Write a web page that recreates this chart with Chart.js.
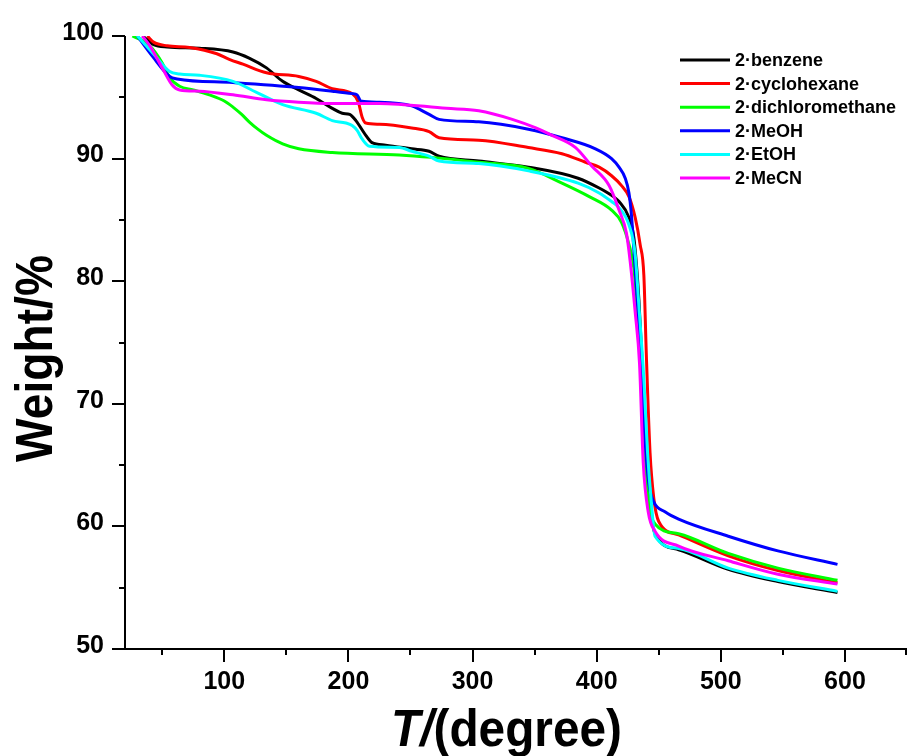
<!DOCTYPE html>
<html>
<head>
<meta charset="utf-8">
<script src="https://cdn.jsdelivr.net/npm/chart.js@4"></script>
<style>
  html, body { margin: 0; padding: 0; background: #fff; }
  #c { display: block; }
</style>
</head>
<body>
<canvas id="c" width="908" height="756"></canvas>
<script>
// ---- data (temperature in degree, weight in %) ----
const seriesLabels = ['2\u00b7benzene', '2\u00b7cyclohexane', '2\u00b7dichloromethane', '2\u00b7MeOH', '2\u00b7EtOH', '2\u00b7MeCN'];
const seriesColors = ['#000000', '#ff0000', '#00ff00', '#0000ff', '#00ffff', '#ff00ff'];

const benzeneT = [34, 38, 43, 54, 80, 107, 120, 134, 147, 160, 174, 187, 195, 201, 206, 214, 219, 230, 251, 265, 273, 305, 345, 385, 402, 412, 418, 426, 430, 434, 437, 440, 443, 447, 466, 506, 546, 594];
const benzeneW = [100, 99.7, 99.3, 99.1, 99.0, 98.7, 98.2, 97.4, 96.3, 95.6, 94.9, 94.1, 93.7, 93.6, 93.1, 91.9, 91.3, 91.1, 90.8, 90.6, 90.2, 89.8, 89.3, 88.4, 87.6, 87.0, 86.5, 85.2, 83.5, 78.5, 72.5, 66, 62, 59.4, 58.1, 56.5, 55.5, 54.6];

const cyclohexaneT = [38, 43, 54, 72, 94, 104, 115, 134, 160, 174, 187, 203, 208, 211, 214, 225, 251, 265, 273, 305, 345, 372, 391, 402, 412, 420, 426, 431, 435, 438, 440, 443, 446, 450, 466, 506, 546, 594];
const cyclohexaneW = [100, 99.5, 99.2, 99.06, 98.55, 98.1, 97.7, 97.0, 96.7, 96.3, 95.7, 95.3, 94.6, 93.4, 92.9, 92.8, 92.5, 92.2, 91.7, 91.5, 90.9, 90.4, 89.7, 89.3, 88.6, 87.8, 86.9, 85.2, 83.0, 80.5, 74, 66, 62.3, 60.4, 59.3, 57.6, 56.4, 55.4];

const dichloromethaneT = [26, 40, 50, 56, 64, 75, 88, 100, 107, 114, 120, 127, 134, 147, 160, 187, 241, 267, 305, 345, 372, 394, 412, 420, 426, 430, 433, 436, 439, 442, 447, 466, 506, 546, 594];
const dichloromethaneW = [100, 99.2, 97.8, 96.6, 95.9, 95.6, 95.2, 94.7, 94.2, 93.6, 93.0, 92.4, 91.9, 91.2, 90.8, 90.5, 90.3, 90.1, 89.7, 89.2, 88.0, 86.9, 85.8, 84.8, 83.0, 81.0, 77, 72, 66, 62, 60.2, 59.4, 57.8, 56.6, 55.6];

const meohT = [30, 42.5, 56, 62, 107, 160, 187, 203, 207, 210, 225, 251, 265, 273, 305, 345, 372, 399, 412, 418, 423, 426, 428, 430, 433, 436, 439, 442, 446, 455, 466, 506, 546, 594];
const meohW = [100, 98.3, 96.7, 96.5, 96.2, 95.8, 95.5, 95.3, 95.2, 94.7, 94.6, 94.3, 93.6, 93.2, 93.0, 92.4, 91.7, 90.8, 90.0, 89.3, 88.4, 87.2, 85.4, 82.5, 78, 73, 67, 63.5, 62.0, 61.2, 60.6, 59.2, 58.0, 56.9];

const etohT = [30, 42.5, 56, 64, 80, 107, 128, 147, 174, 187, 198, 203, 207, 211, 217, 241, 251, 265, 273, 305, 345, 385, 402, 412, 418, 426, 431, 434, 438, 441, 444, 447, 466, 506, 546, 594];
const etohW = [100, 98.6, 97.1, 96.9, 96.8, 96.3, 95.3, 94.4, 93.7, 93.1, 92.9, 92.7, 92.3, 91.6, 91.0, 90.9, 90.6, 90.2, 89.8, 89.6, 89.0, 88.0, 87.2, 86.5, 86.0, 84.6, 82.2, 78, 72, 66, 62, 59.2, 58.2, 56.6, 55.6, 54.7];

const mecnT = [34, 40, 50.5, 58, 64, 80, 107, 134, 160, 187, 225, 279, 305, 332, 351, 364, 383, 396, 410, 418, 424, 427, 431, 434.5, 437.5, 441.5, 447, 466, 506, 546, 594];
const mecnW = [100, 99.2, 97.3, 96.0, 95.6, 95.5, 95.2, 94.8, 94.6, 94.5, 94.5, 94.1, 93.9, 93.2, 92.5, 91.9, 90.9, 89.4, 87.8, 85.8, 83.9, 81.6, 77.5, 73.3, 65.2, 61.2, 59.6, 58.4, 57.2, 56.1, 55.3];

const xLabelTicks = [100, 200, 300, 400, 500, 600];
const xMinorTicks = [50, 150, 250, 350, 450, 550, 650];
const yLabelTicks = [50, 60, 70, 80, 90, 100];
const yMinorTicks = [55, 65, 75, 85, 95];
const xTitleMain = 'T/';
const xTitleRest = '(degree)';
const yTitle = 'Weight/%';

// ---- build ----
const seriesT = [benzeneT, cyclohexaneT, dichloromethaneT, meohT, etohT, mecnT];
const seriesW = [benzeneW, cyclohexaneW, dichloromethaneW, meohW, etohW, mecnW];

const datasets = seriesLabels.map((label, i) => ({
  label,
  data: seriesT[i].map((t, j) => ({ x: t, y: seriesW[i][j] })),
  borderColor: seriesColors[i],
  backgroundColor: seriesColors[i],
  borderWidth: 3,
  pointRadius: 0,
  fill: false,
  cubicInterpolationMode: 'monotone',
  order: seriesLabels.length - i
}));

const FONT = "'Liberation Sans', Arial, Helvetica, sans-serif";
Chart.defaults.font.family = FONT;
Chart.defaults.color = '#000';

const axesPlugin = {
  id: 'axesPlugin',
  afterDraw(chart) {
    const { ctx, chartArea: a, scales: { x, y } } = chart;
    ctx.save();
    ctx.strokeStyle = '#000';
    ctx.lineWidth = 2;
    ctx.lineCap = 'butt';
    ctx.beginPath();
    ctx.moveTo(a.left, a.top);
    ctx.lineTo(a.left, a.bottom);
    ctx.moveTo(a.left - 1, a.bottom);
    ctx.lineTo(a.right, a.bottom);
    ctx.stroke();
    const major = 13, minor = 6;
    ctx.beginPath();
    xLabelTicks.forEach(v => { const p = Math.round(x.getPixelForValue(v)); ctx.moveTo(p, a.bottom); ctx.lineTo(p, a.bottom + major); });
    xMinorTicks.forEach(v => { let p = Math.round(x.getPixelForValue(v)); if (p > a.right - 1) p = a.right - 1; ctx.moveTo(p, a.bottom); ctx.lineTo(p, a.bottom + minor); });
    yLabelTicks.forEach(v => { const p = Math.round(y.getPixelForValue(v)); ctx.moveTo(a.left, p); ctx.lineTo(a.left - major, p); });
    yMinorTicks.forEach(v => { const p = Math.round(y.getPixelForValue(v)); ctx.moveTo(a.left, p); ctx.lineTo(a.left - minor, p); });
    ctx.stroke();
    ctx.restore();
  }
};

const legendPlugin = {
  id: 'legendPlugin',
  afterDraw(chart) {
    const { ctx } = chart;
    ctx.save();
    ctx.font = 'bold 18px ' + FONT;
    ctx.textBaseline = 'middle';
    ctx.textAlign = 'left';
    chart.data.datasets.forEach((ds, i) => {
      const yy = 60 + i * 23.6;
      ctx.strokeStyle = ds.borderColor;
      ctx.lineWidth = 3;
      ctx.beginPath();
      ctx.moveTo(680, yy);
      ctx.lineTo(730, yy);
      ctx.stroke();
      ctx.fillStyle = '#000';
      ctx.fillText(ds.label, 735, yy + 1);
    });
    ctx.restore();
  }
};

const titlePlugin = {
  id: 'titlePlugin',
  afterDraw(chart) {
    const { ctx } = chart;
    ctx.save();
    ctx.fillStyle = '#000';
    const size = 52;
    const fItal = 'italic bold ' + size + 'px ' + FONT;
    const fBold = 'bold ' + size + 'px ' + FONT;
    ctx.font = fItal; const w1 = ctx.measureText(xTitleMain).width;
    ctx.font = fBold; const w2 = ctx.measureText(xTitleRest).width;
    const sx = 231 / (w1 + w2);
    ctx.save();
    ctx.translate(391, 746);
    ctx.scale(sx, 1);
    ctx.textBaseline = 'alphabetic';
    ctx.textAlign = 'left';
    ctx.font = fItal; ctx.fillText(xTitleMain, 0, 0);
    ctx.font = fBold; ctx.fillText(xTitleRest, w1, 0);
    ctx.restore();
    ctx.save();
    ctx.font = fBold;
    const wy = ctx.measureText(yTitle).width;
    const sy = 207 / wy;
    ctx.translate(52, 462);
    ctx.rotate(-Math.PI / 2);
    ctx.scale(sy, 1);
    ctx.textBaseline = 'alphabetic';
    ctx.textAlign = 'left';
    ctx.fillText(yTitle, 0, 0);
    ctx.restore();
    ctx.restore();
  }
};

new Chart(document.getElementById('c'), {
  type: 'line',
  data: { datasets },
  options: {
    responsive: false,
    animation: false,
    devicePixelRatio: 1,
    layout: { padding: { top: 29, right: 1, left: 0, bottom: 0 } },
    plugins: { legend: { display: false }, tooltip: { enabled: false }, title: { display: false } },
    scales: {
      x: {
        type: 'linear', min: 20, max: 650,
        grid: { display: false, drawTicks: false },
        border: { display: false },
        ticks: { font: { size: 25, weight: 'bold' }, color: '#000', padding: 18, maxRotation: 0, autoSkip: false },
        afterBuildTicks: s => { s.ticks = xLabelTicks.map(v => ({ value: v })); },
        afterFit: s => { s.height = 107; }
      },
      y: {
        type: 'linear', min: 50, max: 100,
        grid: { display: false, drawTicks: false },
        border: { display: false },
        ticks: { font: { size: 25, weight: 'bold' }, color: '#000', padding: 21, labelOffset: -3, autoSkip: false },
        afterBuildTicks: s => { s.ticks = yLabelTicks.map(v => ({ value: v })); },
        afterFit: s => { s.width = 125; }
      }
    }
  },
  plugins: [axesPlugin, legendPlugin, titlePlugin]
});
</script>
</body>
</html>
